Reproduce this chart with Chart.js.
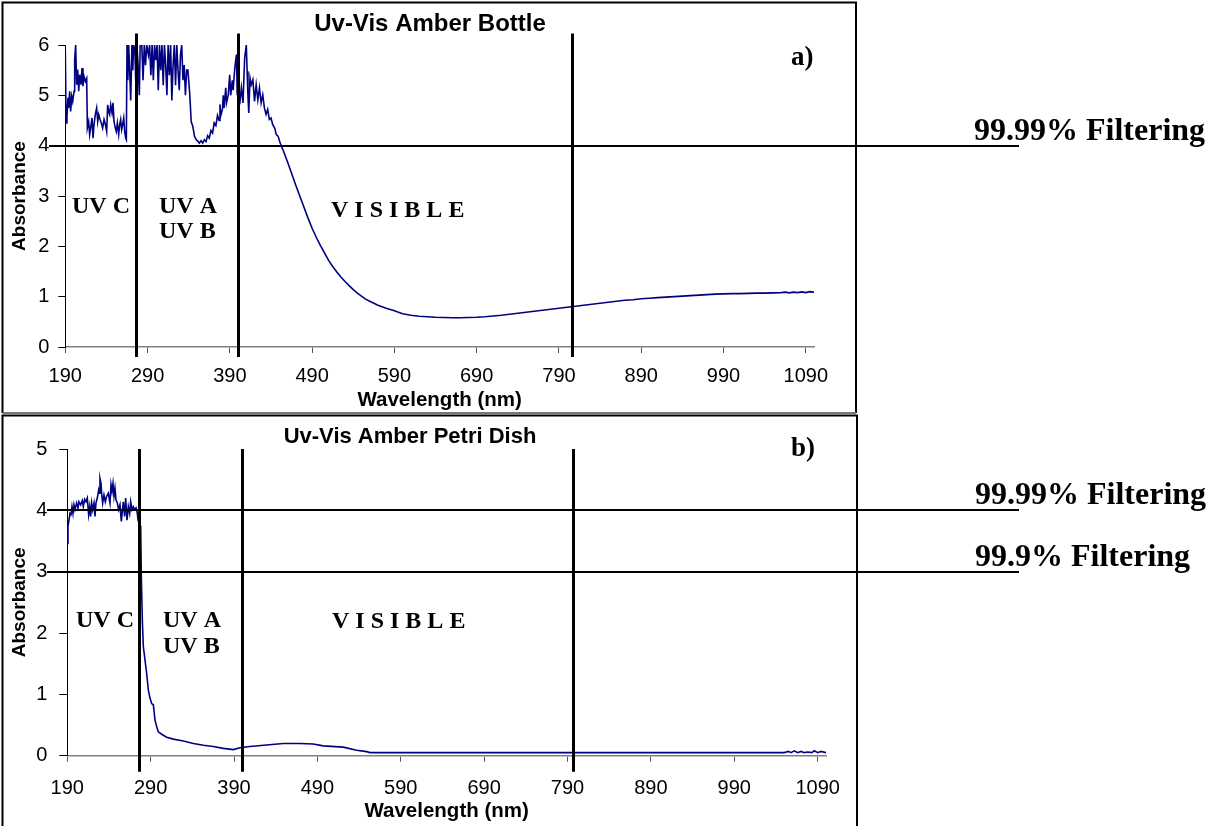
<!DOCTYPE html>
<html>
<head>
<meta charset="utf-8">
<title>Uv-Vis Amber Bottle / Petri Dish</title>
<script src="https://cdn.jsdelivr.net/npm/chart.js@4.4.1/dist/chart.umd.min.js"></script>
<style>
  html, body { margin: 0; padding: 0; background: #fff; }
  #wrap { position: relative; width: 1215px; height: 826px; overflow: hidden; background: #fff; }
  canvas { position: absolute; left: 0; display: block; }
  #bottleChart { top: 0; }
  #dishChart { top: 414px; }
</style>
</head>
<body>
<div id="wrap">
  <canvas id="bottleChart" width="1215" height="414"></canvas>
  <canvas id="dishChart" width="1215" height="412"></canvas>
</div>
<script>
// ---- Amber bottle spectrum (wavelength in nm, absorbance) ----
const bottleWavelength = [
  190,191,192,193.3,194.1,195.3,196.5,197.8,199,200.6,201.4,202.6,203.8,205,206.3,207.5,209.1,210.3,211.5,212.7,
  214.4,216,216.8,218.4,219.6,220.8,222.5,223.7,224.9,226.5,228.1,229.4,230.6,232.2,233.8,235.4,237.1,238.7,240.3,241.5,
  242.7,243.9,245.2,246.8,248,249.2,250.8,252,253.3,254.9,256.1,257.3,258.5,259.7,261,262.2,263.4,264.2,
  265,266,267,268,269.5,271,272,273,274.5,276,277,278.5,280,281,283,284.5,286,287.5,289,291,
  292.5,294,295.5,297,298.5,300,301.5,303,304.5,306,307.5,309,310.5,312,313.5,315,316.5,318,319.5,321,
  322.5,324,325.5,327,328.5,330,331.5,333,334.5,336,337.5,
  339,341,342,343,345,347,349,351,353,355,357,359,361,363,365,367,369,371,373,375,
  377,378,379,381,382,383,385,386,388,389.8,391,393,394,396,398,399,400,401,402,404,
  406,408,410,411,412,413,414.5,416,418,420,422,424,426,428,430,432,434,436,438,440,
  442,444.5,446.5,448.6,450.5,452.6,
  455,460,465,470,475,480,485,490,495,500,505,510,515,520,525,530,535,540,545,550,555,560,565,570,
  580,590,600,610,620,630,640,650,660,670,680,690,700,710,720,730,740,750,760,770,
  780,790,800,810,820,830,840,850,860,870,880,890,900,910,920,930,940,950,960,970,
  980,990,1000,1010,1020,1030,1040,1050,1060,1065,1070,1075,1080,1085,1090,1095,1100
];
const bottleAbsorbance = [
  5.9,4.45,4.58,4.95,4.75,5.08,4.68,4.98,4.88,5.08,5.71,6.0,5.21,5.51,5.08,5.41,5.21,5.54,5.18,5.38,
  5.28,5.34,4.35,4.48,4.22,4.35,4.55,4.15,4.42,4.62,4.75,4.48,4.62,4.52,4.45,4.35,4.52,4.42,4.28,4.81,
  4.68,4.62,4.81,4.65,4.85,4.48,4.35,4.28,4.45,4.22,4.42,4.52,4.32,4.42,4.55,4.28,4.15,4.12,
  6.0,5.3,6.0,5.6,4.9,6.0,5.5,6.0,5.9,5.1,6.0,5.6,5.0,6.0,6.0,5.3,6.0,5.6,6.0,5.8,
  6.0,5.4,6.0,5.3,6.0,5.7,6.0,5.1,6.0,5.5,6.0,5.2,6.0,5.6,5.0,6.0,5.4,6.0,4.9,5.6,
  6.0,5.2,6.0,5.5,5.1,5.8,6.0,5.3,5.6,5.0,5.5,
  5.5,5.08,4.8,4.48,4.38,4.19,4.12,4.09,4.05,4.1,4.05,4.12,4.08,4.2,4.15,4.3,4.25,4.45,4.4,4.6,
  4.5,4.82,4.6,4.72,5.0,4.75,5.15,4.85,5.0,5.41,5.0,5.3,5.1,5.54,5.81,5.0,6.0,5.2,4.82,5.15,
  4.85,5.74,6.0,5.48,5.0,4.65,5.34,5.21,5.31,4.88,5.21,4.91,5.15,4.85,5.01,4.75,4.62,4.72,4.52,4.55,
  4.42,4.35,4.22,4.19,4.09,3.99,
  3.9,3.68,3.45,3.22,3.0,2.78,2.56,2.36,2.18,2.02,1.87,1.72,1.6,1.49,1.39,1.3,1.22,1.14,1.07,1.01,0.95,0.91,0.87,0.83,
  0.77,0.72,0.66,0.63,0.61,0.6,0.59,0.585,0.58,0.58,0.585,0.59,0.6,0.615,0.63,0.65,0.67,0.69,0.71,0.73,
  0.75,0.77,0.79,0.81,0.83,0.85,0.87,0.89,0.91,0.93,0.94,0.96,0.97,0.98,0.99,1.0,1.01,1.02,1.03,1.04,
  1.05,1.055,1.06,1.06,1.065,1.07,1.07,1.075,1.08,1.09,1.075,1.09,1.08,1.095,1.08,1.1,1.09
];

// ---- Amber petri dish spectrum ----
const dishWavelength = [
  190,190.8,192,193.2,194.4,195.6,196.8,198,199.2,201.2,202.8,204,206,208,209.2,210.8,212.4,214,215.6,216.8,
  218,219.2,220.4,222,223.2,224.4,226,227.6,228.4,229.2,230.4,231.2,232.4,234,235.6,237.2,239.2,241.2,242.4,243.6,
  244.8,246,247.2,248.4,250,251.6,253.2,254.8,256,257.2,258.8,260,261.6,263.2,264.8,266,267.6,269.2,270.8,272.4,
  274,274.8,278,278.8,280,281.2,283.2,285.2,287.2,289.2,291.2,293.2,295.2,297.2,299.2,303.2,309.2,317.2,329.2,341.2,
  353.2,365.2,377.2,389.2,397,409,429,449,469,485,497,521,537,549,553,600,700,800,900,1000,
  1050,1055,1058,1062,1066,1070,1074,1078,1083,1086,1090,1094,1100
];
const dishAbsorbance = [
  3.46,3.74,3.84,3.95,3.93,4.06,3.95,4.09,4.01,4.12,4.04,4.14,4.09,4.16,4.06,4.18,4.14,4.2,3.93,4.06,
  3.9,4.12,4.01,4.12,3.9,4.12,4.2,4.33,4.28,4.52,4.44,4.28,4.12,4.25,4.14,4.23,4.28,4.12,4.42,4.31,
  4.44,4.23,4.36,4.17,4.12,4.01,4.09,3.82,3.98,4.14,3.9,4.2,3.84,4.06,3.95,4.14,4.01,4.06,4.01,4.04,
  3.95,3.84,3.74,2.92,2.21,1.78,1.56,1.34,1.07,0.94,0.85,0.83,0.58,0.47,0.39,0.35,0.3,0.27,0.24,0.2,
  0.17,0.15,0.12,0.1,0.13,0.15,0.175,0.2,0.2,0.19,0.16,0.14,0.09,0.066,0.05,0.05,0.05,0.05,0.05,0.05,
  0.05,0.07,0.05,0.08,0.05,0.07,0.05,0.06,0.05,0.08,0.05,0.07,0.05
];

// ---- axes and annotations ----
const wavelengthTicks = [190, 290, 390, 490, 590, 690, 790, 890, 990, 1090];
const bottleBandEdges = [276, 400.3, 806.3];     // UV C | UV A-B | visible | NIR (nm)
const dishBandEdges = [276.4, 399.2, 797];
const bottleFilterLevels = [4];
const bottleFilterLabels = ['99.99% Filtering'];
const dishFilterLevels = [4, 3];
const dishFilterLabels = ['99.99% Filtering', '99.9% Filtering'];

const SANS = "'Liberation Sans', Arial, Helvetica, sans-serif";
const SERIF = "'Liberation Serif', 'Times New Roman', Times, serif";
Chart.defaults.font.family = SANS;
Chart.defaults.color = '#000';

// Frame, titles, band separators, filtering thresholds and band names
const panelDecor = {
  id: 'panelDecor',
  afterDraw(chart, args, o) {
    const { ctx, chartArea: a, scales: { x, y } } = chart;
    ctx.save();

    // outer frame
    const f = o.frame;
    ctx.lineWidth = 2;
    ctx.strokeStyle = '#000';
    ctx.beginPath();
    ctx.moveTo(f.x0, f.y1); ctx.lineTo(f.x0, f.y0); ctx.lineTo(f.x1, f.y0); ctx.lineTo(f.x1, f.y1);
    ctx.stroke();
    if (f.bottomColor) {
      ctx.strokeStyle = f.bottomColor;
      ctx.beginPath(); ctx.moveTo(f.x0, f.y1); ctx.lineTo(f.x1, f.y1); ctx.stroke();
    }

    // chart title
    ctx.fillStyle = '#000';
    ctx.textBaseline = 'alphabetic';
    ctx.textAlign = 'center';
    ctx.font = 'bold ' + o.title.size + 'px ' + SANS;
    ctx.fillText(o.title.text, o.title.x, o.title.y);

    // panel letter
    ctx.textAlign = 'left';
    ctx.font = 'bold 27px ' + SERIF;
    ctx.fillText(o.panel.text, o.panel.x, o.panel.y);

    // band separators
    ctx.strokeStyle = '#000';
    ctx.lineWidth = 3;
    o.edges.forEach(v => {
      const px = Math.round(x.getPixelForValue(v)) + 0.5;
      ctx.beginPath();
      ctx.moveTo(px, a.top - o.edgeAbove);
      ctx.lineTo(px, a.bottom + o.edgeBelow);
      ctx.stroke();
    });

    // filtering thresholds with labels outside the frame
    ctx.lineWidth = 2;
    ctx.font = 'bold 32px ' + SERIF;
    o.levels.forEach((lv, i) => {
      const py = Math.round(y.getPixelForValue(lv));
      ctx.beginPath();
      ctx.moveTo(o.levelFrom, py);
      ctx.lineTo(o.levelTo, py);
      ctx.stroke();
      ctx.fillText(o.levelLabels[i], o.levelLabelX, py - 6);
    });

    // band names
    ctx.font = 'bold 24px ' + SERIF;
    o.bands.forEach(b => ctx.fillText(b.text, b.x, b.y));

    ctx.restore();
  }
};
Chart.register(panelDecor);

function buildChart(canvasId, cfg) {
  const points = cfg.wavelength.map((w, i) => ({ x: w, y: cfg.absorbance[i] }));
  return new Chart(document.getElementById(canvasId), {
    type: 'line',
    data: {
      datasets: [{
        data: points,
        borderColor: '#000080',
        borderWidth: 1.6,
        pointRadius: 0,
        tension: 0,
        fill: false
      }]
    },
    options: {
      responsive: false,
      devicePixelRatio: 1,
      animation: false,
      events: [],
      parsing: false,
      layout: { padding: cfg.padding },
      plugins: {
        legend: { display: false },
        tooltip: { enabled: false },
        title: { display: false },
        panelDecor: cfg.decor
      },
      scales: {
        x: {
          type: 'linear',
          min: 190,
          max: 1100,
          afterBuildTicks: s => { s.ticks = wavelengthTicks.map(v => ({ value: v })); },
          afterFit: s => { s.height = cfg.xAxisHeight; },
          grid: { drawOnChartArea: false, drawTicks: true, tickLength: 6, color: '#555', lineWidth: 1 },
          border: { display: true, color: '#808080', width: 1.5 },
          ticks: {
            padding: cfg.xTickPad, autoSkip: false, maxRotation: 0, color: '#000',
            font: { size: 20 },
            callback: v => String(v)
          },
          title: {
            display: true, text: 'Wavelength (nm)', color: '#000',
            font: { size: 20.5, weight: 'bold' },
            padding: { top: 0, bottom: cfg.xTitlePad }
          }
        },
        y: {
          min: 0,
          max: cfg.yMax,
          afterFit: s => { s.width = cfg.yAxisWidth; },
          grid: { drawOnChartArea: false, drawTicks: true, tickLength: cfg.yTickLen, color: '#000', lineWidth: 1 },
          border: { display: true, color: '#000', width: 1 },
          ticks: { stepSize: 1, padding: cfg.yTickPad, color: '#000', font: { size: 20 } },
          title: {
            display: true, text: 'Absorbance', color: '#000',
            font: { size: 19, weight: 'bold' },
            padding: { top: 5.6, bottom: 0 }
          }
        }
      }
    }
  });
}

buildChart('bottleChart', {
  wavelength: bottleWavelength,
  absorbance: bottleAbsorbance,
  yMax: 6,
  padding: { left: 3, top: 45, right: 401, bottom: 0 },
  yAxisWidth: 62.3,
  xAxisHeight: 67,
  xTickPad: 11.5,
  xTitlePad: 1,
  yTickLen: 7,
  yTickPad: 9,
  decor: {
    frame: { x0: 2.5, y0: 2.5, x1: 856, y1: 413, bottomColor: '#777' },
    title: { text: 'Uv-Vis Amber Bottle', x: 430, y: 31, size: 24 },
    panel: { text: 'a)', x: 791, y: 65 },
    edges: bottleBandEdges, edgeAbove: 11.5, edgeBelow: 10,
    levels: bottleFilterLevels, levelLabels: bottleFilterLabels,
    levelFrom: 49, levelTo: 1019, levelLabelX: 974,
    bands: [
      { text: 'UV C', x: 72, y: 213 },
      { text: 'UV A', x: 159, y: 213 },
      { text: 'UV B', x: 159, y: 238 },
      { text: 'V I S I B L E', x: 331, y: 217 }
    ]
  }
});

buildChart('dishChart', {
  wavelength: dishWavelength,
  absorbance: dishAbsorbance,
  yMax: 5,
  padding: { left: 3, top: 35, right: 389, bottom: 0 },
  yAxisWidth: 64.3,
  xAxisHeight: 70.3,
  xTickPad: 15,
  xTitlePad: 2.6,
  yTickLen: 8,
  yTickPad: 12,
  decor: {
    frame: { x0: 2.5, y0: 1.5, x1: 857, y1: 430 },
    title: { text: 'Uv-Vis Amber Petri Dish', x: 410, y: 29, size: 22 },
    panel: { text: 'b)', x: 791, y: 42 },
    edges: dishBandEdges, edgeAbove: 0, edgeBelow: 16,
    levels: dishFilterLevels, levelLabels: dishFilterLabels,
    levelFrom: 47, levelTo: 1019, levelLabelX: 975,
    bands: [
      { text: 'UV C', x: 76, y: 213 },
      { text: 'UV A', x: 163, y: 213 },
      { text: 'UV B', x: 163, y: 239 },
      { text: 'V I S I B L E', x: 332, y: 214 }
    ]
  }
});
</script>
</body>
</html>
